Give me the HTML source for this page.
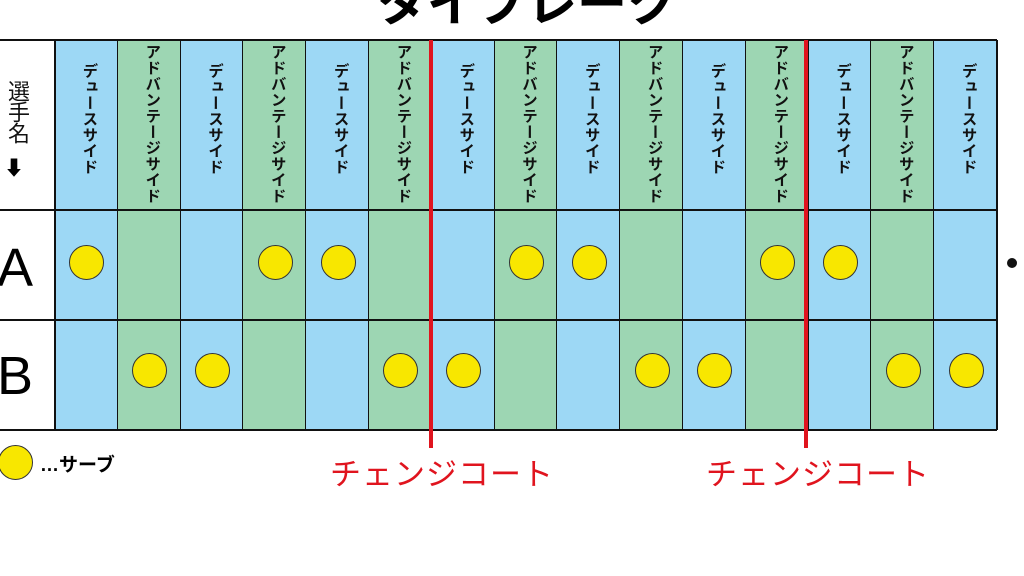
<!DOCTYPE html>
<html><head><meta charset="utf-8"><style>
body{margin:0;width:1024px;height:576px;background:#fff;overflow:hidden;position:relative;font-family:"Liberation Sans","Noto Sans CJK JP",sans-serif}
.a{position:absolute}
.title{left:0;width:1054px;top:-26px;text-align:center;font-size:50px;font-weight:bold;line-height:60px}
.col{position:absolute;top:40px;height:390px;box-sizing:border-box;border:1px solid #111;border-width:0 2px 0 0}
.hd{position:absolute;writing-mode:vertical-rl;text-orientation:upright;font-weight:bold;font-size:15.5px;letter-spacing:0.5px;color:#111}
.c{position:absolute;width:35px;height:35px;border-radius:50%;background:#f8e700;border:1px solid #333;box-sizing:border-box}
.hl{position:absolute;left:0;width:997px;height:2px;background:#111}
.red{position:absolute;width:4px;background:#e0141e;top:40px;height:408px}
.ct{position:absolute;color:#e0141e;font-size:31px;top:449px;letter-spacing:1px}
</style></head><body>
<div class="a title">タイブレーク</div>
<div id="g"></div>
<div class="hl" style="top:39px"></div>
<div class="hl" style="top:209px"></div>
<div class="hl" style="top:319px"></div>
<div class="hl" style="top:429px"></div>
<div class="a" style="left:54px;top:40px;width:2px;height:390px;background:#111"></div>
<div class="hd" style="left:1px;top:80px;font-weight:normal;font-size:22px;letter-spacing:-1px">選手名</div>
<div class="a" style="left:4px;top:152px;font-size:20px">⬇</div>
<div class="a" style="left:-3px;top:236px;font-size:54px;line-height:64px">A</div>
<div class="a" style="left:-3px;top:344px;font-size:54px;line-height:64px">B</div>
<div class="red" style="left:429px"></div>
<div class="red" style="left:804px"></div>
<div class="ct" style="left:330px">チェンジコート</div>
<div class="ct" style="left:706px">チェンジコート</div>
<div class="c" style="left:-2px;top:445px"></div>
<div class="a" style="left:40px;top:450px;font-weight:bold;font-size:19px">…サーブ</div>
<div class="a" style="left:1007px;top:258px;width:10px;height:10px;border-radius:50%;background:#111"></div>
<script>
var g=document.getElementById('g'),h='';
var A=[0,3,4,7,8,11,12],B=[1,2,5,6,9,10,13,14];
for(var i=0;i<15;i++){
var x=55+i*62.8,w=62.8;var blue=i%2==0;
h+='<div class="col" style="left:'+x+'px;width:'+(w+1)+'px;background:'+(blue?'#9dd8f5':'#9dd6b3')+'"></div>';
h+='<div class="hd" style="left:'+(x+w/2-9)+'px;top:'+(blue?63:44)+'px">'+(blue?'デュースサイド':'アドバンテージサイド')+'</div>';
if(A.indexOf(i)>=0)h+='<div class="c" style="left:'+(x+w/2-17)+'px;top:245px"></div>';
if(B.indexOf(i)>=0)h+='<div class="c" style="left:'+(x+w/2-17)+'px;top:353px"></div>';
}
g.innerHTML=h;
</script>
</body></html>
